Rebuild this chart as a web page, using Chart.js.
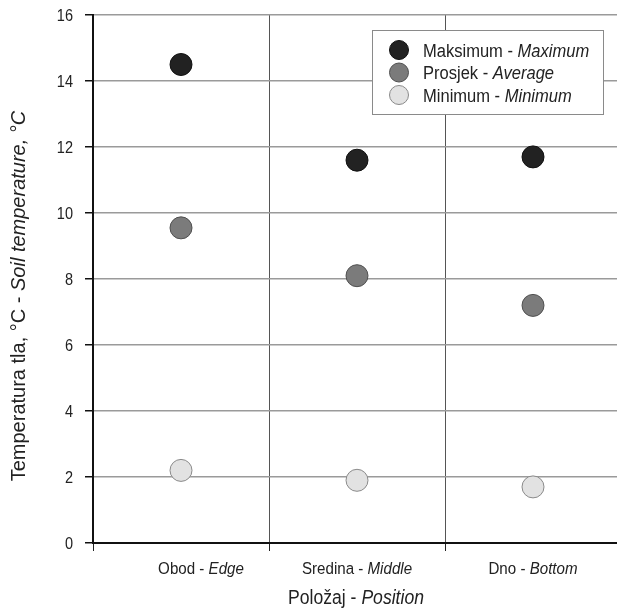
<!DOCTYPE html>
<html><head><meta charset="utf-8">
<script src="https://cdn.jsdelivr.net/npm/chart.js@4"></script>
<style>html,body{margin:0;padding:0;background:#fff;overflow:hidden;}canvas{display:block;}</style>
</head><body>
<canvas id="c" width="630" height="610"></canvas>
<script>
const categoriesLocal = ['Obod', 'Sredina', 'Dno'];
const categoriesEn = ['Edge', 'Middle', 'Bottom'];
const seriesLocal = ['Maksimum', 'Prosjek', 'Minimum'];
const seriesEn = ['Maximum', 'Average', 'Minimum'];
const maximumValues = [14.5, 11.6, 11.7];
const averageValues = [9.55, 8.1, 7.2];
const minimumValues = [2.2, 1.9, 1.7];
const yTicks = [0, 2, 4, 6, 8, 10, 12, 14, 16];
const yTitleLocal = 'Temperatura tla, °C - ';
const yTitleEn = 'Soil temperature, °C';
const xTitleLocal = 'Položaj - ';
const xTitleEn = 'Position';

const FONT = '"Liberation Sans", Arial, sans-serif';
const TEXT = '#222';
const SQUEEZE = 0.88;
const LABEL_SHIFT = [20, 0, 0];
const fills = ['#222222', '#7b7b7b', '#e2e2e2'];
const borders = ['#111111', '#505050', '#8a8a8a'];

// draws text made of regular/italic parts, horizontally condensed by sx
function drawMixed(ctx, parts, x, y, size, align, sx) {
  ctx.save();
  let total = 0;
  const widths = parts.map(p => {
    ctx.font = (p.italic ? 'italic ' : '') + size + 'px ' + FONT;
    const w = ctx.measureText(p.text).width;
    total += w;
    return w;
  });
  ctx.translate(x, y);
  ctx.scale(sx, 1);
  let cx = align === 'center' ? -total / 2 : (align === 'right' ? -total : 0);
  ctx.textAlign = 'left';
  ctx.textBaseline = 'alphabetic';
  ctx.fillStyle = TEXT;
  parts.forEach((p, i) => {
    ctx.font = (p.italic ? 'italic ' : '') + size + 'px ' + FONT;
    ctx.fillText(p.text, cx, 0);
    cx += widths[i];
  });
  ctx.restore();
}

const decor = {
  id: 'decor',
  afterDatasetsDraw(chart) {
    const ctx = chart.ctx;
    ctx.save();
    const bx = 372, by = 30, bw = 231, bh = 84;
    ctx.fillStyle = '#fff';
    ctx.fillRect(bx, by, bw, bh);
    ctx.strokeStyle = '#8a8a8a';
    ctx.lineWidth = 1;
    ctx.strokeRect(bx + 0.5, by + 0.5, bw, bh);
    chart.data.datasets.forEach((ds, i) => {
      const cy = 50 + i * 22.5;
      ctx.beginPath();
      ctx.arc(399, cy, 9.5, 0, Math.PI * 2);
      ctx.fillStyle = ds.backgroundColor;
      ctx.fill();
      ctx.strokeStyle = ds.borderColor;
      ctx.lineWidth = 1;
      ctx.stroke();
      drawMixed(ctx, [{text: seriesLocal[i] + ' - ', italic: false}, {text: seriesEn[i], italic: true}], 423, cy + 6.5, 18.8, 'left', SQUEEZE);
    });
    ctx.restore();
  },
  afterDraw(chart) {
    const ctx = chart.ctx;
    const xs = chart.scales.x;
    const ys = chart.scales.y;
    ctx.save();
    yTicks.forEach(v => {
      const py = ys.getPixelForValue(v);
      drawMixed(ctx, [{text: String(v), italic: false}], 73, py + 6, 16.5, 'right', SQUEEZE);
    });
    categoriesLocal.forEach((c, i) => {
      const px = xs.getPixelForValue(i);
      drawMixed(ctx, [{text: c + ' - ', italic: false}, {text: categoriesEn[i], italic: true}], px + LABEL_SHIFT[i], 574, 17.2, 'center', SQUEEZE);
    });
    drawMixed(ctx, [{text: xTitleLocal, italic: false}, {text: xTitleEn, italic: true}], 356, 604, 20, 'center', SQUEEZE);
    ctx.translate(25, 296);
    ctx.rotate(-Math.PI / 2);
    drawMixed(ctx, [{text: yTitleLocal, italic: false}, {text: yTitleEn, italic: true}], 0, 0, 20, 'center', 1);
    ctx.restore();
  }
};

const seriesValues = [maximumValues, averageValues, minimumValues];
const datasets = seriesValues.map((vals, i) => ({
  label: seriesLocal[i] + ' - ' + seriesEn[i],
  data: vals,
  showLine: false,
  pointRadius: 11,
  pointHoverRadius: 11,
  pointBorderWidth: 1,
  backgroundColor: fills[i],
  borderColor: borders[i],
  pointBackgroundColor: fills[i],
  pointBorderColor: borders[i]
}));

new Chart(document.getElementById('c'), {
  type: 'line',
  data: { labels: categoriesLocal.map((c, i) => c + ' - ' + categoriesEn[i]), datasets },
  options: {
    responsive: false,
    animation: false,
    events: [],
    layout: { autoPadding: false, padding: { left: 0, right: 9, top: 15, bottom: 0 } },
    plugins: { legend: { display: false }, tooltip: { enabled: false } },
    scales: {
      x: {
        type: 'category',
        offset: true,
        afterFit(s) { s.height = 67; },
        grid: { offset: true, color: '#555', lineWidth: 1, tickLength: 8, tickColor: '#222', drawTicks: true },
        border: { color: '#111', width: 2 },
        ticks: { display: false }
      },
      y: {
        min: 0, max: 16,
        afterFit(s) { s.width = 93; },
        afterBuildTicks(s) { s.ticks = yTicks.map(v => ({ value: v })); },
        grid: { color: '#9a9a9a', lineWidth: 1.5, tickLength: 8, tickColor: '#111' },
        border: { color: '#111', width: 2 },
        ticks: { display: false }
      }
    }
  },
  plugins: [decor]
});
</script>
</body></html>
